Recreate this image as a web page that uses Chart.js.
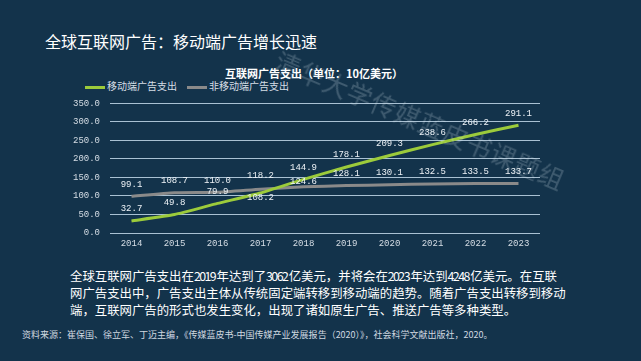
<!DOCTYPE html>
<html>
<head>
<meta charset="utf-8">
<script src="https://cdn.jsdelivr.net/npm/chart.js@4/dist/chart.umd.min.js"></script>
<style>
  body { margin: 0; width: 641px; height: 361px; overflow: hidden; background: #13334b; position: relative; font-family: "Noto Sans CJK SC", sans-serif; }
  #title { position: absolute; left: 45px; top: 29px; font-size: 16px; color: #fff; }
  #ctitle { position: absolute; left: 204px; width: 220px; top: 65px; text-align: center; font-size: 11px; font-weight: bold; color: #fff; font-family: "Noto Sans CJK SC", serif; }
  #legend { position: absolute; left: 85px; top: 78px; font-size: 10px; color: #d6dee6; white-space: nowrap; }
  #legend span.item { display: inline-block; margin-right: 10px; }
  #legend i { display: inline-block; width: 20px; height: 3px; vertical-align: middle; margin-right: 2px; }
  #wrap { position: absolute; left: 0; top: 88px; }
  #para { position: absolute; left: 70px; top: 268px; font-size: 12.4px; line-height: 17px; color: #fff; white-space: nowrap; }
  #para b { font-weight: normal; letter-spacing: -1.6px; margin-right: 1.5px; }
  #src { position: absolute; left: 22px; top: 328px; font-size: 9px; color: #d0d8e0; white-space: nowrap; }
  #wm { position: absolute; left: 284px; top: 42px; font-size: 25px; color: rgba(220,230,240,0.22); transform: rotate(23deg); transform-origin: left top; white-space: nowrap; letter-spacing: 1px; }
</style>
</head>
<body>
<div id="title">全球互联网广告：移动端广告增长迅速</div>
<div id="ctitle">互联网广告支出（单位：10亿美元）</div>
<div id="legend"></div>
<div id="wrap"><canvas id="adChart" width="641" height="169"></canvas></div>
<div id="wm">清华大学传媒蓝皮书课题组</div>
<div id="para">全球互联网广告支出在<b>2019</b>年达到了<b>3062</b>亿美元，并将会在<b>2023</b>年达到<b>4248</b>亿美元。在互联<br>网广告支出中，广告支出主体从传统固定端转移到移动端的趋势。随着广告支出转移到移动<br>端，互联网广告的形式也发生变化，出现了诸如原生广告、推送广告等多种类型。</div>
<div id="src">资料来源：崔保国、徐立军、丁迈主编，《传媒蓝皮书-中国传媒产业发展报告（2020）》，社会科学文献出版社，2020。</div>
<script>
// 年份
const years = ['2014', '2015', '2016', '2017', '2018', '2019', '2020', '2021', '2022', '2023'];
// 系列名
const seriesNames = ['移动端广告支出', '非移动端广告支出'];
// 移动端广告支出（10亿美元）
const mobileSpend = [32.7, 49.8, 79.9, 108.2, 144.9, 178.1, 209.3, 238.6, 266.2, 291.1];
// 非移动端广告支出
const nonMobileSpend = [99.1, 108.7, 110.0, 118.2, 124.6, 128.1, 130.1, 132.5, 133.5, 133.7];
// 纵轴刻度
const yMin = 0, yMax = 350, yStep = 50;

const lineColors = ['#9ccb3b', '#8a8a8a'];

// 凡例（HTML）
const legendEl = document.getElementById('legend');
seriesNames.forEach((name, i) => {
    legendEl.innerHTML += '<span class="item"><i style="background:' + lineColors[i] + '"></i>' + name + '</span>';
});

// 数据标签的偏移（点的上方，个别放下方）
const labelOffset = [[-12, -12, -12, 5, -12, -12, -12, -12, -12, -12],
                     [-12, -12, -12, -14, -5, -12, -12, -12, -12, -12]];
const valueLabels = {
    id: 'valueLabels',
    afterDatasetsDraw(chart) {
        const ctx = chart.ctx;
        ctx.save();
        ctx.font = '9px "Liberation Mono", monospace';
        ctx.fillStyle = '#eef3f7';
        ctx.textAlign = 'center';
        ctx.textBaseline = 'middle';
        chart.data.datasets.forEach((ds, di) => {
            chart.getDatasetMeta(di).data.forEach((pt, i) => {
                ctx.fillText(ds.data[i].toFixed(1), pt.x, pt.y + labelOffset[di][i]);
            });
        });
        ctx.restore();
    }
};

const ctx = document.getElementById('adChart').getContext('2d');
new Chart(ctx, {
    type: 'line',
    data: {
        labels: years,
        datasets: [
            { label: seriesNames[0], data: mobileSpend, borderColor: lineColors[0], borderWidth: 3, pointRadius: 0, tension: 0.15 },
            { label: seriesNames[1], data: nonMobileSpend, borderColor: lineColors[1], borderWidth: 3, pointRadius: 0, tension: 0.15 }
        ]
    },
    options: {
        responsive: false,
        animation: false,
        layout: { padding: { top: 10, right: 101, left: 0, bottom: 0 } },
        plugins: { legend: { display: false }, title: { display: false }, tooltip: { enabled: false } },
        scales: {
            x: {
                offset: true,
                grid: { display: false, drawTicks: false },
                border: { display: false },
                ticks: { color: '#d6dee6', padding: 5, font: { family: '"Liberation Mono", monospace', size: 9 } },
                afterFit: s => { s.height = 24; }
            },
            y: {
                min: yMin, max: yMax,
                grid: { color: '#a9c1d3', lineWidth: 1, drawTicks: false },
                border: { display: false },
                ticks: {
                    stepSize: yStep, padding: 10, color: '#d6dee6',
                    font: { family: '"Liberation Mono", monospace', size: 9 },
                    callback: v => v.toFixed(1)
                },
                afterFit: s => { s.width = 110; }
            }
        }
    },
    plugins: [valueLabels]
});
</script>
</body>
</html>
